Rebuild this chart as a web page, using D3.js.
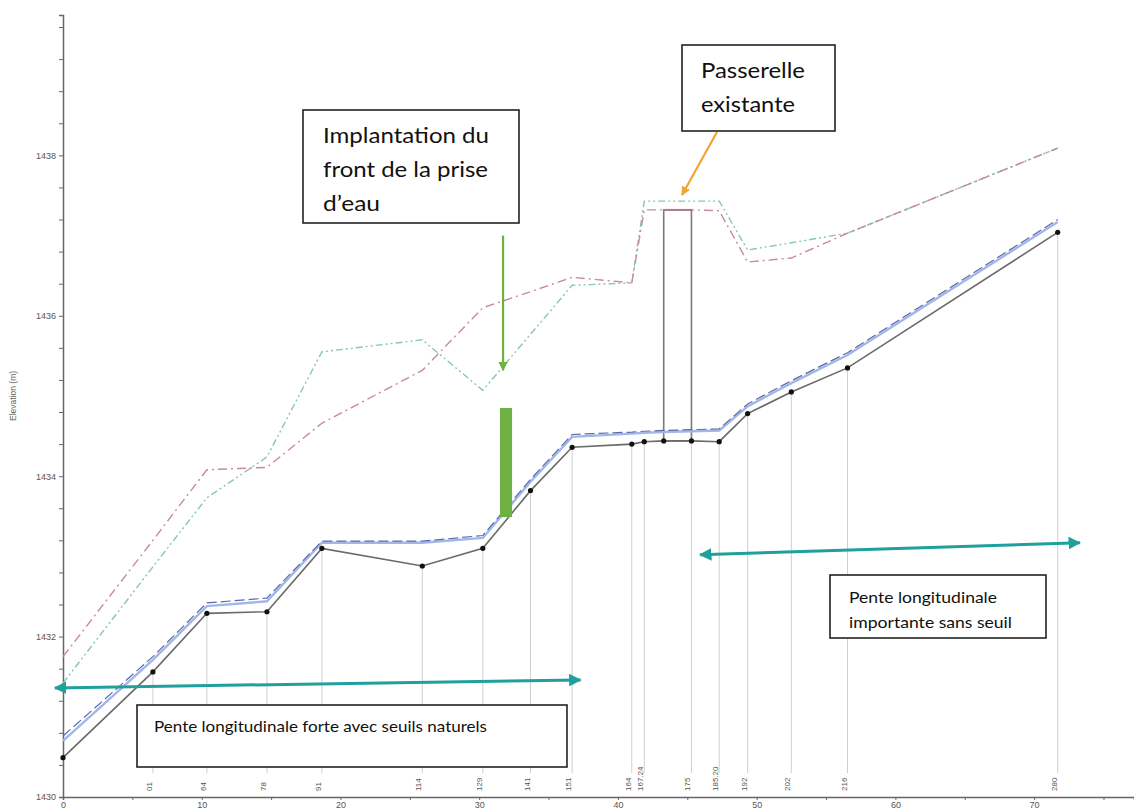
<!DOCTYPE html>
<html>
<head>
<meta charset="utf-8">
<script src="https://cdn.jsdelivr.net/npm/d3@7"></script>
<style>
  body { margin: 0; background: #fff; }
  svg { display: block; }
</style>
</head>
<body>
<svg width="1134" height="812"></svg>
<script>
// stations along the reach (x, m) and their labels
var stationX = [0, 6.48, 10.37, 14.7, 18.66, 25.9, 30.26, 33.7, 36.7, 41.0, 41.9, 43.3, 45.3, 47.3, 49.35, 52.5, 56.55, 71.7];
var stationLabels = ["", "01", "64", "78", "91", "114", "129", "141", "151", "164", "167.24", "", "175", "185.20", "192", "202", "216", "280"];
// elevations (m)
var ground   = [1430.49, 1431.56, 1432.29, 1432.31, 1433.10, 1432.88, 1433.10, 1433.82, 1434.36, 1434.40, 1434.43, 1434.44, 1434.44, 1434.43, 1434.78, 1435.05, 1435.35, 1437.04];
var wsSolid  = [1430.70, 1431.71, 1432.38, 1432.44, 1433.17, 1433.17, 1433.23, 1433.93, 1434.49, 1434.53, 1434.54, 1434.55, 1434.56, 1434.57, 1434.87, 1435.16, 1435.51, 1437.17];
var wsDashed = [1430.76, 1431.75, 1432.42, 1432.48, 1433.19, 1433.19, 1433.26, 1433.96, 1434.52, 1434.55, 1434.56, 1434.57, 1434.58, 1434.59, 1434.90, 1435.19, 1435.54, 1437.20];
var bankLeft  = [1431.42, 1432.87, 1433.73, 1434.24, 1435.55, 1435.70, 1435.07, 1435.77, 1436.38, 1436.41, 1437.43, 1437.43, 1437.43, 1437.43, 1436.82, 1436.91, 1437.03, 1438.09];
var bankRight = [1431.75, 1433.20, 1434.08, 1434.11, 1434.66, 1435.32, 1436.10, 1436.30, 1436.48, 1436.41, 1437.32, 1437.32, 1437.32, 1437.31, 1436.67, 1436.72, 1437.03, 1438.09];
// existing footbridge
var bridgeX = [43.3, 45.3];
var bridgeElev = [1434.44, 1437.32];
// axis ticks
var xTicks = [0, 10, 20, 30, 40, 50, 60, 70];
var yTicks = [1430, 1432, 1434, 1436, 1438];

var svg = d3.select("svg");
var x = d3.scaleLinear().domain([0, 77.2]).range([63, 1134]);
var y = d3.scaleLinear().domain([1430, 1439.75]).range([797, 15]);

// axes
var gx = svg.append("g").attr("transform", "translate(0,797)")
  .call(d3.axisBottom(x).tickValues(d3.range(0, 77, 5)).tickSize(3).tickFormat(function(d){ return xTicks.indexOf(d) >= 0 ? d : ""; }));
var gy = svg.append("g").attr("transform", "translate(63,0)")
  .call(d3.axisLeft(y).tickValues(d3.range(1430, 1439.7, 0.4)).tickSize(4).tickFormat(function(d){
    var r = Math.round(d * 10) / 10;
    return yTicks.indexOf(r) >= 0 ? r : "";
  }));
[gx, gy].forEach(function(g){
  g.select(".domain").attr("stroke", "#666").attr("stroke-width", 1.5);
  g.selectAll(".tick line").attr("stroke", "#666");
  g.selectAll(".tick text").attr("fill", "#555").attr("font-size", 9).attr("font-family", "Liberation Sans, Arial");
});
gx.selectAll(".tick text").attr("dy", "0.55em");
svg.append("text").attr("transform", "translate(16,396) rotate(-90)")
  .attr("text-anchor", "middle").attr("font-size", 8.5).attr("fill", "#666")
  .attr("font-family", "Liberation Sans, Arial").text("Elevation (m)");

var idx = d3.range(stationX.length);

// station lines and labels
idx.forEach(function(i){
  if (!stationLabels[i]) return;
  svg.append("line").attr("x1", x(stationX[i])).attr("x2", x(stationX[i]))
    .attr("y1", y(ground[i])).attr("y2", 773).attr("stroke", "#cfcfcf").attr("stroke-width", 1);
  svg.append("text").attr("transform", "translate(" + (x(stationX[i]) - 1) + ",791) rotate(-90)")
    .attr("font-size", 8).attr("fill", "#555").attr("font-family", "Liberation Sans, Arial")
    .text(stationLabels[i]);
});

function lineOf(vals) {
  return d3.line().x(function(i){ return x(stationX[i]); }).y(function(i){ return y(vals[i]); })(idx);
}

// bank lines
svg.append("path").attr("d", lineOf(bankLeft)).attr("fill", "none")
  .attr("stroke", "#86c6b6").attr("stroke-width", 1.4).attr("stroke-dasharray", "7,3,2,3,2,3");
svg.append("path").attr("d", lineOf(bankRight)).attr("fill", "none")
  .attr("stroke", "#c9899f").attr("stroke-width", 1.4).attr("stroke-dasharray", "9,4,2,4");

// bridge
svg.append("rect").attr("x", x(bridgeX[0])).attr("y", y(bridgeElev[1]))
  .attr("width", x(bridgeX[1]) - x(bridgeX[0])).attr("height", y(bridgeElev[0]) - y(bridgeElev[1]))
  .attr("fill", "none").attr("stroke", "#7a7a7a").attr("stroke-width", 1.6);
svg.append("line").attr("x1", x(bridgeX[0])).attr("x2", x(bridgeX[1]))
  .attr("y1", y(bridgeElev[1])).attr("y2", y(bridgeElev[1])).attr("stroke", "#b07a90").attr("stroke-width", 2);

// water surface
svg.append("path").attr("d", lineOf(wsSolid)).attr("fill", "none")
  .attr("stroke", "#a3b6ea").attr("stroke-width", 2.4);
svg.append("path").attr("d", lineOf(wsDashed)).attr("fill", "none")
  .attr("stroke", "#5a6aa8").attr("stroke-width", 1.2).attr("stroke-dasharray", "10,4");

// ground
svg.append("path").attr("d", lineOf(ground)).attr("fill", "none")
  .attr("stroke", "#6a6a6a").attr("stroke-width", 1.6);
svg.selectAll("circle.pt").data(idx).enter().append("circle")
  .attr("cx", function(i){ return x(stationX[i]); }).attr("cy", function(i){ return y(ground[i]); })
  .attr("r", 2.6).attr("fill", "#111");

// annotations
var defs = svg.append("defs");
function marker(id, color) {
  defs.append("marker").attr("id", id).attr("viewBox", "0 0 10 10").attr("refX", 9).attr("refY", 5)
    .attr("markerWidth", 4.2).attr("markerHeight", 4.2).attr("orient", "auto-start-reverse")
    .append("path").attr("d", "M0,0 L10,5 L0,10 z").attr("fill", color);
}
marker("mTeal", "#1fa09c");
marker("mGreen", "#6fb043");
marker("mOrange", "#f2a530");

var tealArrows = [[-0.58, 1431.36, 37.3, 1431.46], [45.93, 1433.02, 73.3, 1433.17]];
tealArrows.forEach(function(a){
  svg.append("line").attr("x1", x(a[0])).attr("y1", y(a[1])).attr("x2", x(a[2])).attr("y2", y(a[3]))
    .attr("stroke", "#1fa09c").attr("stroke-width", 3)
    .attr("marker-start", "url(#mTeal)").attr("marker-end", "url(#mTeal)");
});

// intake front: arrow and bar
svg.append("line").attr("x1", x(31.72)).attr("x2", x(31.72)).attr("y1", y(1437.0)).attr("y2", y(1435.32))
  .attr("stroke", "#6fb043").attr("stroke-width", 2.2).attr("marker-end", "url(#mGreen)");
svg.append("rect").attr("x", x(31.5)).attr("width", x(32.37) - x(31.5))
  .attr("y", y(1434.85)).attr("height", y(1433.49) - y(1434.85)).attr("fill", "#6fb043");

svg.append("line").attr("x1", 717).attr("y1", 132).attr("x2", 682).attr("y2", 195)
  .attr("stroke", "#f2a530").attr("stroke-width", 2.2).attr("marker-end", "url(#mOrange)");

function box(x0, y0, w, h, lines, widths, size, lh, tx, ty) {
  svg.append("rect").attr("x", x0).attr("y", y0).attr("width", w).attr("height", h)
    .attr("fill", "#fff").attr("stroke", "#222").attr("stroke-width", 1.6);
  lines.forEach(function(t, k){
    svg.append("text").attr("x", tx).attr("y", ty + k * lh).attr("font-size", size)
      .attr("font-family", "Lato, 'Open Sans', sans-serif").attr("fill", "#111")
      .attr("textLength", widths[k]).attr("lengthAdjust", "spacingAndGlyphs").text(t);
  });
}
box(303, 110, 216, 113, ["Implantation du", "front de la prise", "d\u2019eau"], [166, 165, 57], 21, 34, 323, 143);
box(682, 45, 153, 86, ["Passerelle", "existante"], [104, 94], 21, 34, 701, 78);
box(137, 705, 430, 62, ["Pente longitudinale forte avec seuils naturels"], [333], 16, 0, 154, 732);
box(830, 575, 216, 63, ["Pente longitudinale", "importante sans seuil"], [148, 163], 16, 25, 849, 603);
</script>
</body>
</html>
